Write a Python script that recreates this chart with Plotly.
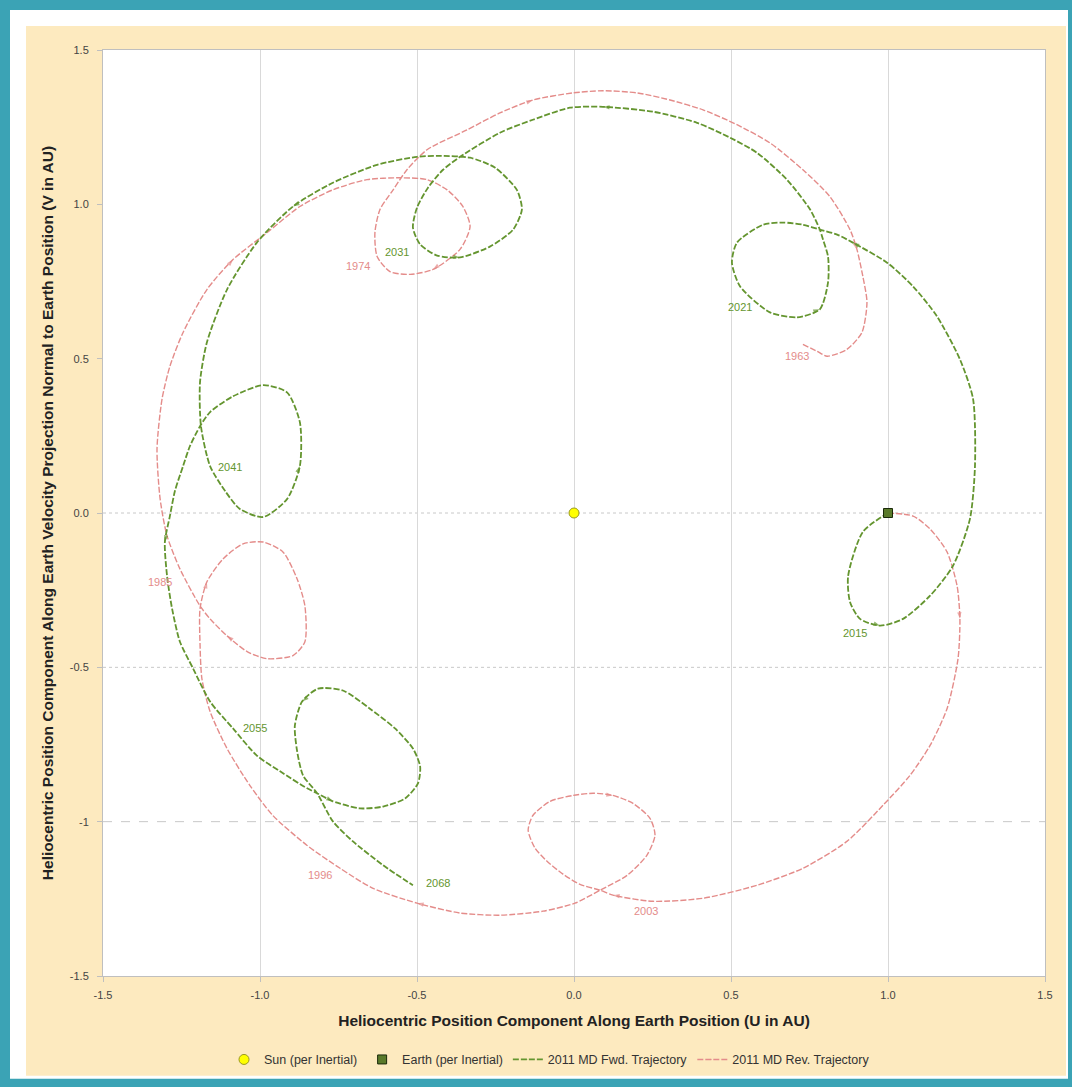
import plotly.graph_objects as go

# ---------------- data (heliocentric rotating frame, AU) ----------------
sun_u = [0.0]
sun_v = [0.0]
earth_u = [1.0]
earth_v = [0.0]

green_u = [1.000, 0.920, 0.873, 0.879, 0.911, 0.975, 1.048, 1.134, 1.207, 1.261,
           1.277, 1.271, 1.229, 1.156, 1.080, 0.997, 0.888, 0.838, 0.783, 0.729,
           0.666, 0.602, 0.519, 0.503, 0.529, 0.624, 0.710, 0.783, 0.809, 0.809,
           0.793, 0.783, 0.752, 0.678, 0.583, 0.497, 0.392, 0.252, 0.092, -0.013,
           -0.131, -0.236, -0.363, -0.417, -0.465, -0.500, -0.513, -0.490, -0.436, -0.363,
           -0.268, -0.194, -0.166, -0.182, -0.252, -0.331, -0.427, -0.500, -0.627, -0.768,
           -0.895, -1.010, -1.105, -1.169, -1.191, -1.188, -1.159, -1.111, -1.064, -0.990,
           -0.914, -0.873, -0.873, -0.914, -0.990, -1.086, -1.159, -1.191, -1.223, -1.245,
           -1.271, -1.287, -1.303, -1.296, -1.280, -1.255, -1.213, -1.159, -1.086, -1.010,
           -0.936, -0.850, -0.818, -0.768, -0.682, -0.608, -0.538, -0.497, -0.490, -0.513,
           -0.570, -0.650, -0.736, -0.815, -0.866, -0.889, -0.882, -0.863, -0.818, -0.768,
           -0.704, -0.608, -0.513]
green_v = [0.000, -0.061, -0.204, -0.288, -0.343, -0.365, -0.343, -0.268, -0.171, -0.019,
           0.152, 0.369, 0.498, 0.637, 0.734, 0.811, 0.876, 0.902, 0.918, 0.934,
           0.941, 0.934, 0.876, 0.811, 0.734, 0.650, 0.634, 0.660, 0.747, 0.831,
           0.886, 0.918, 0.983, 1.080, 1.167, 1.216, 1.264, 1.300, 1.316, 1.313,
           1.274, 1.232, 1.154, 1.112, 1.054, 0.989, 0.925, 0.870, 0.834, 0.828,
           0.863, 0.918, 0.983, 1.047, 1.119, 1.151, 1.157, 1.154, 1.128, 1.070,
           0.993, 0.876, 0.724, 0.553, 0.424, 0.281, 0.152, 0.071, 0.013, -0.013,
           0.045, 0.152, 0.294, 0.391, 0.414, 0.378, 0.327, 0.281, 0.217, 0.152,
           0.071, -0.010, -0.094, -0.204, -0.310, -0.417, -0.504, -0.611, -0.698, -0.786,
           -0.837, -0.892, -0.908, -0.934, -0.957, -0.951, -0.925, -0.876, -0.821, -0.763,
           -0.698, -0.634, -0.575, -0.569, -0.611, -0.689, -0.770, -0.850, -0.908, -0.999,
           -1.064, -1.141, -1.206]

red_u = [1.000, 1.080, 1.134, 1.188, 1.220, 1.229, 1.223, 1.188, 1.134, 1.070,
         0.984, 0.869, 0.729, 0.583, 0.411, 0.252, 0.124, 0.083, 0.019, -0.035,
         -0.086, -0.124, -0.146, -0.131, -0.076, -0.003, 0.061, 0.124, 0.188, 0.242,
         0.258, 0.232, 0.169, 0.083, 0.003, -0.099, -0.236, -0.363, -0.500, -0.640,
         -0.745, -0.850, -0.959, -1.032, -1.105, -1.159, -1.185, -1.191, -1.191, -1.169,
         -1.118, -1.054, -0.990, -0.927, -0.882, -0.857, -0.857, -0.895, -0.978, -1.041,
         -1.105, -1.159, -1.191, -1.255, -1.296, -1.318, -1.328, -1.312, -1.287, -1.245,
         -1.169, -1.086, -0.978, -0.873, -0.768, -0.659, -0.554, -0.468, -0.404, -0.354,
         -0.331, -0.363, -0.449, -0.522, -0.586, -0.627, -0.634, -0.618, -0.576, -0.532,
         -0.468, -0.341, -0.236, -0.131, -0.003, 0.092, 0.201, 0.306, 0.411, 0.519,
         0.624, 0.729, 0.815, 0.879, 0.901, 0.920, 0.933, 0.917, 0.869, 0.806,
         0.774, 0.729]
red_v = [0.000, -0.010, -0.052, -0.126, -0.236, -0.343, -0.472, -0.634, -0.753, -0.850,
         -0.947, -1.064, -1.151, -1.206, -1.248, -1.258, -1.238, -1.222, -1.203, -1.170,
         -1.128, -1.086, -1.028, -0.980, -0.934, -0.915, -0.908, -0.915, -0.941, -0.989,
         -1.044, -1.109, -1.174, -1.222, -1.264, -1.290, -1.303, -1.296, -1.264, -1.216,
         -1.151, -1.077, -0.980, -0.883, -0.763, -0.643, -0.537, -0.424, -0.310, -0.223,
         -0.149, -0.100, -0.094, -0.126, -0.213, -0.301, -0.417, -0.462, -0.472, -0.449,
         -0.398, -0.343, -0.301, -0.181, -0.074, 0.045, 0.207, 0.369, 0.475, 0.585,
         0.724, 0.821, 0.908, 0.993, 1.047, 1.080, 1.086, 1.080, 1.047, 0.993,
         0.928, 0.854, 0.789, 0.773, 0.782, 0.831, 0.908, 0.983, 1.047, 1.112,
         1.177, 1.241, 1.296, 1.338, 1.361, 1.368, 1.361, 1.338, 1.306, 1.258,
         1.199, 1.112, 1.025, 0.918, 0.854, 0.766, 0.682, 0.585, 0.530, 0.508,
         0.524, 0.546]

green_label_text = ["2015", "2021", "2031", "2041", "2055", "2068"]
green_label_u = [0.895, 0.529, -0.564, -1.096, -1.016, -0.433]
green_label_v = [-0.388, 0.666, 0.844, 0.149, -0.698, -1.199]

red_label_text = ["2003", "1996", "1985", "1974", "1963"]
red_label_u = [0.229, -0.809, -1.318, -0.688, 0.710]
red_label_v = [-1.290, -1.174, -0.223, 0.799, 0.508]

x_tick_vals = [-1.5, -1.0, -0.5, 0.0, 0.5, 1.0, 1.5]
x_tick_text = ["-1.5", "-1.0", "-0.5", "0.0", "0.5", "1.0", "1.5"]
y_tick_vals = [-1.5, -1.0, -0.5, 0.0, 0.5, 1.0, 1.5]
y_tick_text = ["-1.5", "-1", "-0.5", "0.0", "0.5", "1.0", "1.5"]

ref_line_v = [0.0, -0.5, -1.0]
ref_line_dash = ["dot", "dot", "dash"]

series_names = ["Sun (per Inertial)", "Earth (per Inertial)",
                "2011 MD Fwd. Trajectory", "2011 MD Rev. Trajectory"]

x_title = "Heliocentric Position Component Along Earth Position (U in AU)"
y_title = ("Heliocentric Position Component Along Earth Velocity Projection "
           "Normal to Earth Position (V in AU)")

# ---------------- styling ----------------
GREEN = "#64952f"
RED = "#e48c8a"
TEAL = "#3ba3b5"
CREAM = "#fdeabf"
FONT = "Liberation Sans"

W, H = 1072, 1087
L, R, T, B = 103, 27, 50, 109
pw, ph = W - L - R, H - T - B


def px_to_paper_x(px):
    return (px - L) / pw


def px_to_paper_y(py):
    return (H - B - py) / ph


fig = go.Figure()


def arrow_sizes(n, step, offset):
    return [7 if (i % step == offset and 0 < i < n - 1) else 0 for i in range(n)]


fig.add_trace(go.Scatter(
    x=red_u, y=red_v, mode="lines+markers", name=series_names[3],
    line=dict(color=RED, width=1.4, dash="6px,2px", shape="spline", smoothing=0.7),
    marker=dict(symbol="arrow", size=arrow_sizes(len(red_u), 11, 5), color=RED,
                angleref="previous", line=dict(width=0)),
    legendrank=4,
))
fig.add_trace(go.Scatter(
    x=green_u, y=green_v, mode="lines+markers", name=series_names[2],
    line=dict(color=GREEN, width=1.8, dash="6px,2px", shape="spline", smoothing=0.7),
    marker=dict(symbol="arrow", size=arrow_sizes(len(green_u), 11, 5), color=GREEN,
                angleref="previous", line=dict(width=0)),
    legendrank=3,
))
fig.add_trace(go.Scatter(
    x=sun_u, y=sun_v, mode="markers", name=series_names[0],
    marker=dict(symbol="circle", size=10, color="#ffff00",
                line=dict(color="#9a9a20", width=1)),
    legendrank=1,
))
fig.add_trace(go.Scatter(
    x=earth_u, y=earth_v, mode="markers", name=series_names[1],
    marker=dict(symbol="square", size=9, color="#5a7a2a",
                line=dict(color="#1a2a0a", width=1)),
    legendrank=2,
))

# year labels
for t, u, v in zip(green_label_text, green_label_u, green_label_v):
    fig.add_annotation(x=u, y=v, text=t, showarrow=False,
                       font=dict(family=FONT, size=11, color=GREEN))
for t, u, v in zip(red_label_text, red_label_u, red_label_v):
    fig.add_annotation(x=u, y=v, text=t, showarrow=False,
                       font=dict(family=FONT, size=11, color=RED))

# reference horizontal lines
for v, d in zip(ref_line_v, ref_line_dash):
    fig.add_shape(type="line", xref="x", yref="y", x0=-1.5, x1=1.5, y0=v, y1=v,
                  line=dict(color="#c8c8c8", width=1, dash=d), layer="below")

# page background layers
fig.add_shape(type="rect", xref="paper", yref="paper",
              x0=px_to_paper_x(10), x1=px_to_paper_x(1068),
              y0=px_to_paper_y(1081), y1=px_to_paper_y(10),
              fillcolor="white", line=dict(width=0), layer="below")
fig.add_shape(type="rect", xref="paper", yref="paper",
              x0=px_to_paper_x(26), x1=px_to_paper_x(1066),
              y0=px_to_paper_y(1078), y1=px_to_paper_y(26),
              fillcolor=CREAM, line=dict(width=0), layer="below")
fig.add_shape(type="rect", xref="paper", yref="paper",
              x0=0, x1=1, y0=0, y1=1,
              fillcolor="white", line=dict(width=0), layer="below")

fig.update_layout(
    width=W, height=H,
    margin=dict(l=L, r=R, t=T, b=B),
    paper_bgcolor=TEAL,
    plot_bgcolor="rgba(0,0,0,0)",
    font=dict(family=FONT, size=11, color="#333333"),
    showlegend=True,
    legend=dict(orientation="h", x=0.474, y=px_to_paper_y(1062),
                xanchor="center", yanchor="middle",
                bgcolor="rgba(0,0,0,0)",
                font=dict(family=FONT, size=12.5, color="#333333"),
                itemwidth=30, traceorder="normal"),
    xaxis=dict(range=[-1.5, 1.5], tickvals=x_tick_vals, ticktext=x_tick_text,
               showgrid=True, gridcolor="#d9d9d9", gridwidth=1,
               zeroline=False, showline=True, linecolor="#bfbfbf", mirror=True,
               ticks="outside", ticklen=5, tickcolor="#bfbfbf",
               ticklabelstandoff=4,
               tickfont=dict(family=FONT, size=11, color="#444444"),
               title=dict(text="<b>" + x_title + "</b>", standoff=14,
                          font=dict(family=FONT, size=15.5, color="#222222"))),
    yaxis=dict(range=[-1.5, 1.5], tickvals=y_tick_vals, ticktext=y_tick_text,
               showgrid=False, zeroline=False, showline=True, linecolor="#bfbfbf",
               mirror=True, ticks="outside", ticklen=5, tickcolor="#bfbfbf",
               ticklabelstandoff=6,
               tickfont=dict(family=FONT, size=11, color="#444444"),
               title=dict(text="<b>" + y_title + "</b>", standoff=12,
                          font=dict(family=FONT, size=15.5, color="#222222"))),
)

fig.write_html("out.html",
               config={"displayModeBar": False},
               post_script="document.body.style.margin='0px';"
                           "document.body.style.overflow='hidden';")
